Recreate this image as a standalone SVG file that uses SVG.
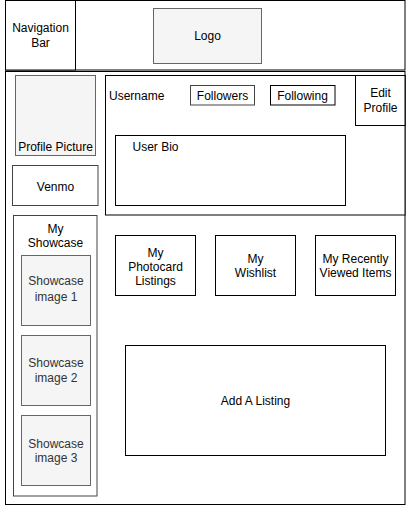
<svg xmlns="http://www.w3.org/2000/svg" width="406" height="506" viewBox="0 0 406 506">
  <style>
    text { font-family: "Liberation Sans", Arial, Helvetica, sans-serif; font-size: 12px; fill: #000; }
    .c { text-anchor: middle; }
    .muted { fill: #333; }
    .box { fill: #fff; stroke: #000; stroke-width: 1; }
    .soft { fill: #fff; stroke: #444; stroke-width: 1; }
    .ph { fill: #f5f5f5; stroke: #666; stroke-width: 1; }
  </style>
  <rect width="406" height="506" fill="#fff"/>

  <!-- header -->
  <g id="nav-bar">
    <rect class="box" x="5.5" y="0.5" width="399.5" height="69.5"/>
  </g>
  <g id="nav-label">
    <rect class="box" x="5.5" y="0.5" width="70" height="69.5"/>
    <text class="c" x="40.5" y="31.5">Navigation</text>
    <text class="c" x="40.5" y="46.5">Bar</text>
  </g>
  <g id="logo">
    <rect class="ph" x="153.5" y="8.5" width="108" height="55"/>
    <text class="c" x="207.5" y="40">Logo</text>
  </g>

  <!-- page body -->
  <g id="page-body">
    <rect class="box" x="5.5" y="71.5" width="399.5" height="433"/>
  </g>

  <g id="profile-picture">
    <rect class="ph" x="15.5" y="75.5" width="80" height="80"/>
    <text class="c" x="55.5" y="150.5">Profile Picture</text>
  </g>
  <g id="venmo">
    <rect class="soft" x="12.5" y="165.5" width="85.5" height="40"/>
    <text class="c" x="55.5" y="190.5">Venmo</text>
  </g>

  <g id="profile-info">
    <rect class="box" x="105.5" y="75.5" width="299.5" height="139.5"/>
    <text x="109" y="100">Username</text>
  </g>
  <g id="followers">
    <rect class="soft" x="190.5" y="85.5" width="64" height="19.5"/>
    <text class="c" x="222.5" y="100">Followers</text>
  </g>
  <g id="following">
    <rect class="box" x="270.5" y="85.5" width="64.5" height="19.5"/>
    <text class="c" x="302.5" y="100">Following</text>
  </g>
  <g id="edit-profile">
    <rect class="box" x="355.5" y="75.5" width="49.5" height="50"/>
    <text class="c" x="380.5" y="97">Edit</text>
    <text class="c" x="380.5" y="112">Profile</text>
  </g>
  <g id="user-bio">
    <rect class="box" x="115.5" y="135.5" width="230" height="70"/>
    <text x="132.5" y="150.5">User Bio</text>
  </g>

  <!-- showcase column -->
  <g id="showcase">
    <rect class="soft" x="13.5" y="215.5" width="83.5" height="280.5"/>
    <text class="c" x="55.5" y="233">My</text>
    <text class="c" x="55.5" y="247">Showcase</text>
  </g>
  <g id="showcase-image-1">
    <rect class="ph" x="21.5" y="255.5" width="69" height="70"/>
    <text class="c muted" x="56" y="285">Showcase</text>
    <text class="c muted" x="56" y="300.5">image 1</text>
  </g>
  <g id="showcase-image-2">
    <rect class="ph" x="21.5" y="335.5" width="69" height="70"/>
    <text class="c muted" x="56" y="366.5">Showcase</text>
    <text class="c muted" x="56" y="381.5">image 2</text>
  </g>
  <g id="showcase-image-3">
    <rect class="ph" x="21.5" y="415.5" width="69" height="70"/>
    <text class="c muted" x="56" y="447.5">Showcase</text>
    <text class="c muted" x="56" y="462">image 3</text>
  </g>

  <!-- listing sections -->
  <g id="photocard-listings">
    <rect class="box" x="115.5" y="235.5" width="80" height="60"/>
    <text class="c" x="155.5" y="256.5">My</text>
    <text class="c" x="155.5" y="270.5">Photocard</text>
    <text class="c" x="155.5" y="284.5">Listings</text>
  </g>
  <g id="wishlist">
    <rect class="box" x="215.5" y="235.5" width="80" height="60"/>
    <text class="c" x="255.5" y="263">My</text>
    <text class="c" x="255.5" y="277">Wishlist</text>
  </g>
  <g id="recently-viewed">
    <rect class="box" x="315.5" y="235.5" width="80" height="60"/>
    <text class="c" x="355.5" y="263">My Recently</text>
    <text class="c" x="355.5" y="277">Viewed Items</text>
  </g>
  <g id="add-listing">
    <rect class="box" x="125.5" y="345.5" width="260" height="110"/>
    <text class="c" x="255.5" y="404.5">Add A Listing</text>
  </g>

  <g id="connectors"/>
</svg>
